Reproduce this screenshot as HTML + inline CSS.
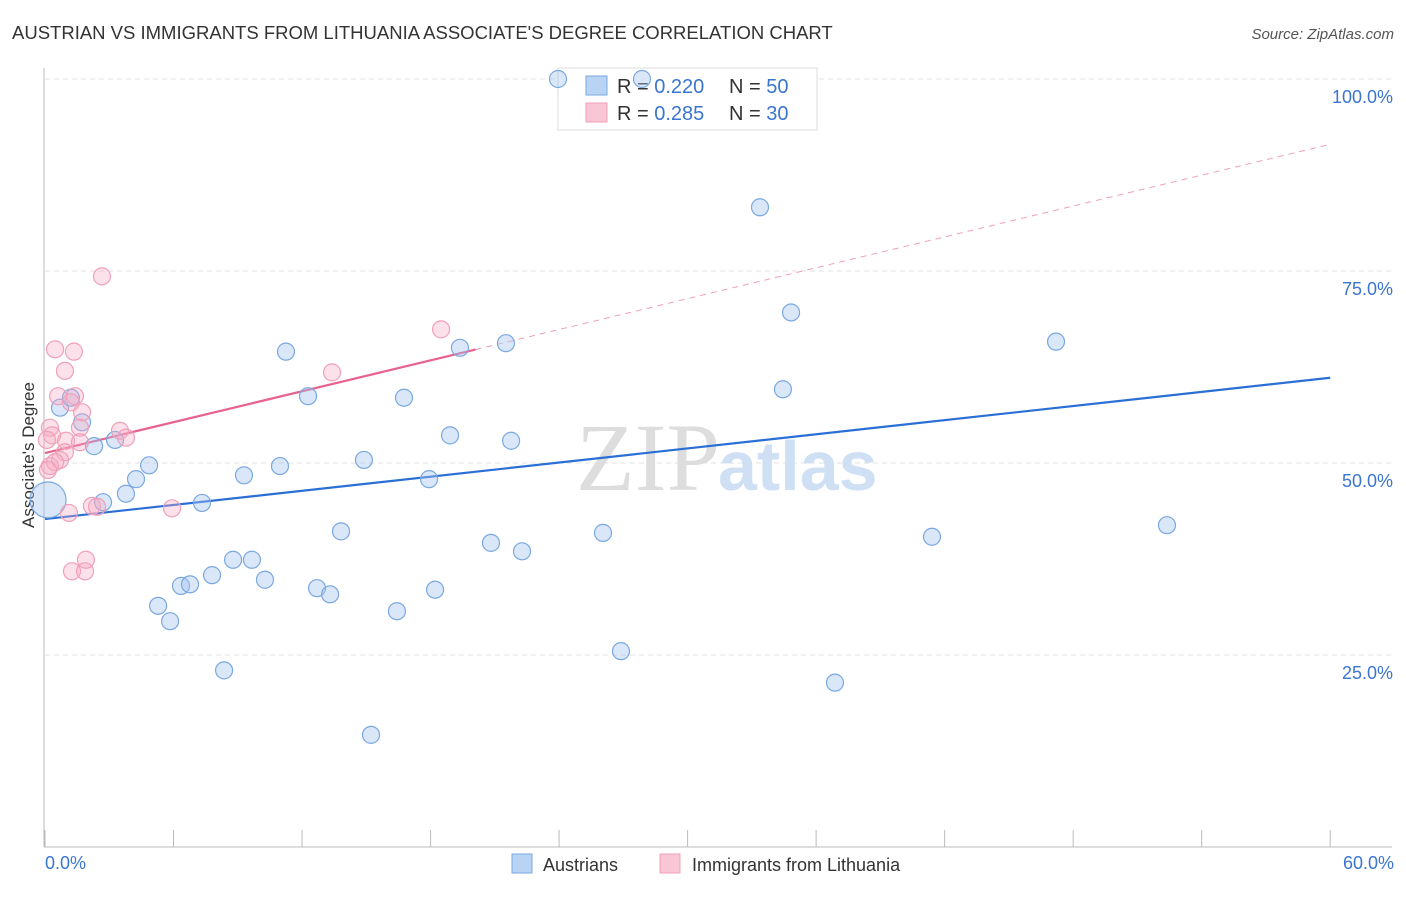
<!DOCTYPE html>
<html><head><meta charset="utf-8"><style>
body{margin:0;background:#fff;font-family:"Liberation Sans",sans-serif}
</style></head><body>
<svg width="1406" height="892" viewBox="0 0 1406 892" xmlns="http://www.w3.org/2000/svg">
<text x="12" y="39" font-size="18.5" fill="#333">AUSTRIAN VS IMMIGRANTS FROM LITHUANIA ASSOCIATE'S DEGREE CORRELATION CHART</text>
<text x="1394" y="39" font-size="15" fill="#555" font-style="italic" text-anchor="end">Source: ZipAtlas.com</text>
<g id="grid"></g>
<text x="720" y="490" font-size="96" fill="#ddd" text-anchor="end" font-family="Liberation Serif">ZIP</text>
<text x="718" y="490" font-size="70" fill="#cfe0f5" font-weight="bold">atlas</text>
<line x1="44" y1="68" x2="44" y2="847" stroke="#bbb"/>
<line x1="44" y1="847" x2="1392" y2="847" stroke="#bbb"/>
<text transform="translate(34,455) rotate(-90)" font-size="17" fill="#333" text-anchor="middle">Associate's Degree</text>
<text x="45" y="869" font-size="18" fill="#3a75d0">0.0%</text>
<text x="1394" y="869" font-size="18" fill="#3a75d0" text-anchor="end">60.0%</text>
<g>
<rect x="558" y="68" width="259" height="62" fill="#fff" stroke="#ddd"/>
<rect x="586" y="76" width="21" height="19" fill="#b9d3f5" stroke="#7aa8e0"/>
<rect x="586" y="103" width="21" height="19" fill="#f9c6d5" stroke="#f0a0b8"/>
<text x="617" y="93" font-size="20" fill="#333">R = <tspan fill="#3a75d0">0.220</tspan></text>
<text x="729" y="93" font-size="20" fill="#333">N = <tspan fill="#3a75d0">50</tspan></text>
<text x="617" y="120" font-size="20" fill="#333">R = <tspan fill="#3a75d0">0.285</tspan></text>
<text x="729" y="120" font-size="20" fill="#333">N = <tspan fill="#3a75d0">30</tspan></text>
</g>
<g id="lines"></g>
<g id="pts"></g>
<g>
<rect x="512" y="854" width="20" height="19" fill="#b9d3f5" stroke="#7aa8e0"/>
<text x="543" y="871" font-size="18" fill="#333">Austrians</text>
<rect x="660" y="854" width="20" height="19" fill="#f9c6d5" stroke="#f0a0b8"/>
<text x="692" y="871" font-size="18" fill="#333">Immigrants from Lithuania</text>
</g>
</svg>
<script>
const blueX=[23.95,27.87,33.38,34.83,47.2,34.45,19.37,21.52,11.25,12.28,16.76,18.91,21.76,14.89,10.97,9.29,17.93,4.86,4.25,3.78,2.71,7.33,0.70,1.21,1.73,2.29,3.27,0.14,13.82,20.82,22.27,26.05,41.41,52.38,8.78,9.66,7.80,10.27,6.35,6.77,12.70,13.31,18.21,5.28,5.84,16.43,26.89,8.36,36.88,15.22];
const blueY=[100,100,83.3,69.6,65.8,59.6,65.0,65.6,64.5,58.7,58.5,53.6,52.9,50.4,49.6,48.4,47.9,49.7,47.9,46.0,44.9,44.8,57.2,58.5,55.3,52.2,53.0,45.2,41.1,39.6,38.5,40.9,40.4,41.9,37.4,37.4,35.4,34.8,34.0,34.2,33.7,32.9,33.5,31.4,29.4,30.7,25.5,23.0,21.4,14.6];
const pinkX=[2.66,0.47,1.35,0.93,13.40,18.49,0.61,1.40,1.21,1.73,0.23,0.33,1.63,3.50,3.78,0.98,1.63,0.93,0.70,0.23,0.47,2.19,2.43,1.12,5.93,1.91,1.26,1.87,0.14,0.09];
const pinkY=[74.3,64.8,64.5,62.0,61.8,67.4,58.7,58.7,57.9,56.6,54.6,53.6,54.6,54.2,53.3,52.9,52.7,51.4,50.4,49.6,50.1,44.4,44.3,43.5,44.1,37.4,35.9,35.9,49.1,53.0];
const blueTrend=[42.7,61.1];
const pinkTrend=[51.3,91.5];
const pinkSolidEnd=20.1;
const yTicks=[100,75,50,25];
const xTicks=[0,6,12,18,24,30,36,42,48,54,60];
const NS="http://www.w3.org/2000/svg";
const sx=v=>45+v*21.42, sy=v=>847-v*7.68;
function mk(t,a,p){const e=document.createElementNS(NS,t);for(const k in a)e.setAttribute(k,a[k]);p.appendChild(e);return e;}
const grid=document.getElementById('grid');
yTicks.forEach(t=>{
  const l=mk('line',{x1:45,x2:1392,y1:sy(t),y2:sy(t),stroke:'#e2e2e2','stroke-dasharray':'5,4'},grid);
  
  
  const tx=mk('text',{x:1393,y:sy(t)+24,'font-size':18,fill:'#3a75d0','text-anchor':'end'},grid);
  tx.textContent=t.toFixed(1)+'%';
  
  
});
xTicks.forEach(t=>{
  const l=mk('line',{x1:sx(t),x2:sx(t),y1:830,y2:847,stroke:'#bbb'},grid);
  
  
});
const lines=document.getElementById('lines');
let b=mk('line',{x1:sx(0),y1:sy(blueTrend[0]),x2:sx(60),y2:sy(blueTrend[1]),stroke:'#2a6fd6','stroke-width':2.2},lines);


const pAt=x=>pinkTrend[0]+(pinkTrend[1]-pinkTrend[0])*x/60;
let p1=mk('line',{x1:sx(0),y1:sy(pAt(0)),x2:sx(pinkSolidEnd),y2:sy(pAt(pinkSolidEnd)),stroke:'#e8628e','stroke-width':2.2},lines);


let p2=mk('line',{x1:sx(pinkSolidEnd),y1:sy(pAt(pinkSolidEnd)),x2:sx(60),y2:sy(pAt(60)),stroke:'#eea0b8','stroke-width':1,'stroke-dasharray':'6,5'},lines);


const pts=document.getElementById('pts');
blueX.forEach((x,i)=>{
  const c=mk('circle',{cx:sx(x),cy:sy(blueY[i]),r:(i===27?18:8.5),fill:'rgba(160,195,240,0.4)',stroke:'#7aa8e0','stroke-width':1.2},pts);
  
  
});
pinkX.forEach((x,i)=>{
  const c=mk('circle',{cx:sx(x),cy:sy(pinkY[i]),r:8.5,fill:'rgba(245,170,195,0.35)',stroke:'#f0a0b8','stroke-width':1.2},pts);
  
  
});
</script>
</body></html>
